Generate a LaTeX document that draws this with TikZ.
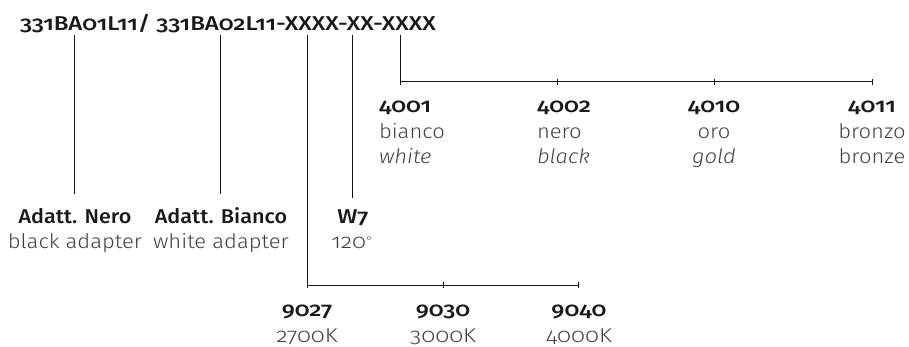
\documentclass[tikz,border=0pt]{standalone}
\usepackage{fontspec}
\setmainfont{Fira Sans Light}[Numbers=OldStyle,FakeStretch=1.1,BoldFont={Fira Sans Medium},BoldFeatures={FakeStretch=1.08},ItalicFont={Fira Sans Light Italic},ItalicFeatures={FakeStretch=1.1}]
\newfontfamily\numbold{Fira Sans Medium}[Numbers=OldStyle,FakeStretch=1.2]
\newfontfamily\numlight{Fira Sans Light}[Numbers=OldStyle,FakeStretch=1.17]
\tikzset{
  lbl/.style={inner sep=0pt,outer sep=0pt,font=\fontsize{20}{20}\selectfont,text=black!75},
  lblb/.style={inner sep=0pt,outer sep=0pt,font=\fontsize{20}{20}\selectfont\bfseries,text=black!90},
  numb/.style={inner sep=0pt,outer sep=0pt,font=\fontsize{20}{20}\numbold,text=black!90},
  numl/.style={inner sep=0pt,outer sep=0pt,font=\fontsize{20}{20}\numlight,text=black!75},
  conn/.style={draw=black!92,line width=1pt},
  tick/.style={draw=black!92,line width=0.8pt},
}
\begin{document}
\begin{tikzpicture}[x=1pt,y=-1pt]
\useasboundingbox (0,0) rectangle (909,347);
\node[numb,anchor=base west] (head) at (20,31) {331BA01L11/ 331BA02L11-XXXX-XX-XXXX};
% coordinates
\coordinate (a0) at (74.5,35); \coordinate (a1) at (74.5,194);
\coordinate (b0) at (220.5,35); \coordinate (b1) at (220.5,194);
\coordinate (c0) at (307,35); \coordinate (c1) at (307,285);
\coordinate (d0) at (352.5,35); \coordinate (d1) at (352.5,198);
\coordinate (e0) at (400,35); \coordinate (e1) at (400,82);
\coordinate (f2) at (557,82); \coordinate (f3) at (714.5,82); \coordinate (f4) at (872,82);
\coordinate (g2) at (443,285); \coordinate (g3) at (578.5,285);
\draw[conn] (a0) -- (a1);
\draw[conn] (b0) -- (b1);
\draw[conn] (d0) -- (d1);
\draw[conn] (c0) -- (c1) -- (g3);
\draw[conn] (e0) -- (e1) -- (f4);
\foreach \p in {e1,f2,f3,f4}{\draw[tick] ([yshift=-3pt]\p) -- ([yshift=3pt]\p);}
\foreach \p in {c1,g2,g3}{\draw[tick] ([yshift=-3pt]\p) -- ([yshift=3pt]\p);}
% colour labels
\node[numb,anchor=base west] (n4001) at (379,113) {4001};
\node[lbl,anchor=base west] (n4001a) at (379,139) {bianco};
\node[lbl,anchor=base west] (n4001b) at (379,164) {\itshape white};
\node[numb,anchor=base west] (n4002) at (537,113) {4002};
\node[lbl,anchor=base west] (n4002a) at (537,139) {nero};
\node[lbl,anchor=base west] (n4002b) at (537,164) {\itshape black};
\node[numb,anchor=base] (n4010) at (714,113) {4010};
\node[lbl,anchor=base] (n4010a) at (714,139) {oro};
\node[lbl,anchor=base] (n4010b) at (714,164) {\itshape gold};
\node[numb,anchor=base] (n4011) at (872,113) {4011};
\node[lbl,anchor=base] (n4011a) at (872,139) {bronzo};
\node[lbl,anchor=base] (n4011b) at (872,164) {bronze};
% adapters
\node[lblb,anchor=base] (an) at (75,223) {Adatt. Nero};
\node[lbl,anchor=base] (ana) at (75,248) {black adapter};
\node[lblb,anchor=base] (ab) at (221,223) {Adatt. Bianco};
\node[lbl,anchor=base] (aba) at (221,248) {white adapter};
\node[numb,anchor=base] (w7) at (353,223) {W7};
\node[numl,anchor=base] (w7a) at (352,248) {120\raisebox{4pt}{\fontsize{11}{11}\selectfont°}};
% temperatures
\node[numb,anchor=base] (t1) at (307,316) {9027};
\node[numl,anchor=base] (t1a) at (307,342) {2700K};
\node[numb,anchor=base] (t2) at (443,316) {9030};
\node[numl,anchor=base] (t2a) at (443,342) {3000K};
\node[numb,anchor=base] (t3) at (579,316) {9040};
\node[numl,anchor=base] (t3a) at (579,342) {4000K};
\end{tikzpicture}
\end{document}
